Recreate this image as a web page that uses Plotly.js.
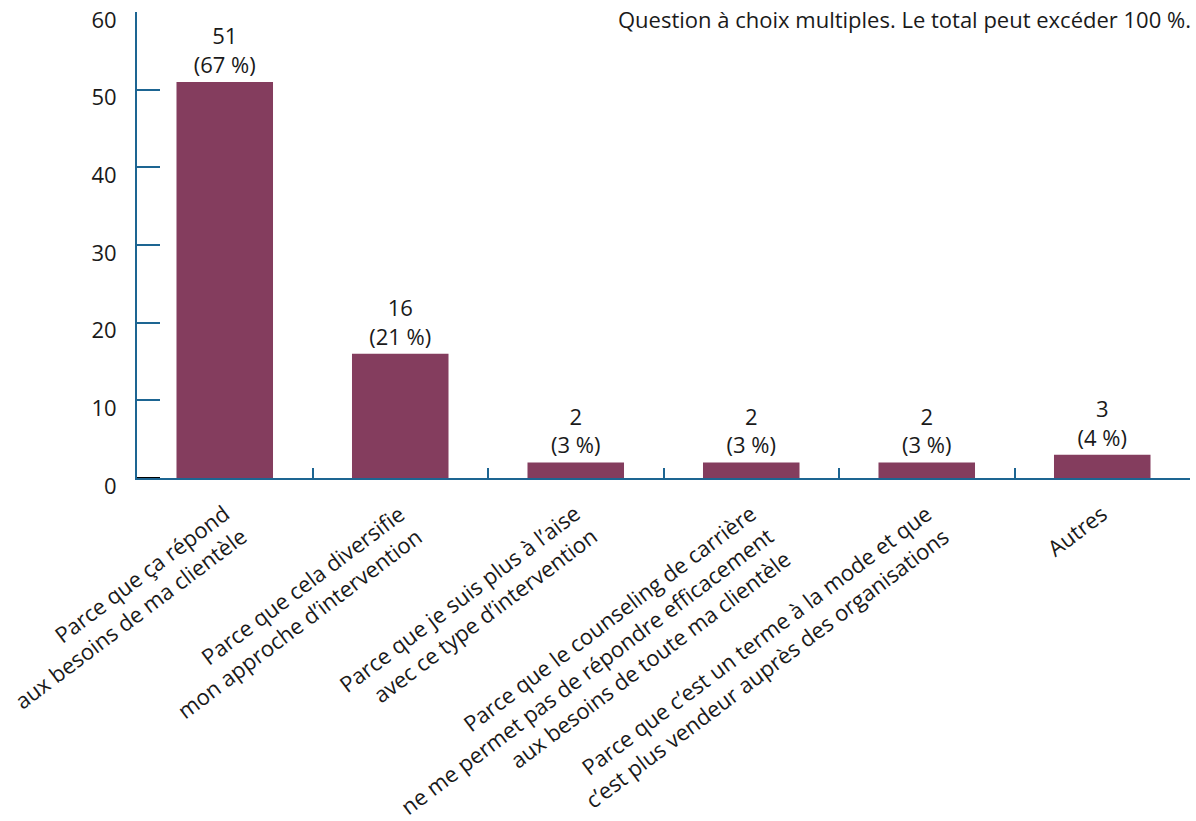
<!DOCTYPE html>
<html><head><meta charset="utf-8">
<script src="https://cdn.plot.ly/plotly-3.0.1.min.js"></script>
<style>html,body{margin:0;padding:0;background:#fff}</style>
</head><body><div id="chart" style="width:1196px;height:821px"></div>
<script>
const categories = [
  "Parce que ça répond<br>aux besoins de ma clientèle",
  "Parce que cela diversifie<br>mon approche d’intervention",
  "Parce que je suis plus à l’aise<br>avec ce type d’intervention",
  "Parce que le counseling de carrière<br>ne me permet pas de répondre efficacement<br>aux besoins de toute ma clientèle",
  "Parce que c’est un terme à la mode et que<br>c’est plus vendeur auprès des organisations",
  "Autres"
];
const counts = [51, 16, 2, 2, 2, 3];
const percents = [67, 21, 3, 3, 3, 4];
const yTicks = [0, 10, 20, 30, 40, 50, 60];
const note = "Question à choix multiples. Le total peut excéder 100 %.";

const axisColor = "#1d6592";
const barColor = "#843d5e";
const textColor = "#1a1a1a";
const fontFamily = "'Open Sans', 'DejaVu Sans', sans-serif";
const fs = 22;

// rotated category labels (right-aligned lines, top-right corner hung below each category)
const angle = 37;
const sinA = Math.sin(angle * Math.PI / 180);
const hangX = -6, hangY = 17;
const labelAnnotations = categories.map(cat => {
  const n = cat.split("<br>").length;
  const h = (n - 1) * 1.3 * fs + 1.36 * fs + 2;
  return {
    text: cat, showarrow: false, textangle: -angle, align: "right",
    xref: "x", x: cat, yref: "paper", y: 0,
    xanchor: "right", yanchor: "top",
    xshift: hangX + h * sinA, yshift: -hangY,
    font: {size: fs, color: textColor, family: fontFamily}
  };
});

const trace = {
  type: "bar",
  x: categories,
  y: counts,
  text: counts.map((c, i) => c + "<br>(" + percents[i] + " %)"),
  textposition: "outside",
  textfont: {size: fs, color: textColor, family: fontFamily},
  constraintext: "none",
  marker: {color: barColor},
  width: 0.55,
  cliponaxis: false,
  hoverinfo: "none"
};

const layout = {
  width: 1196, height: 821,
  margin: {l: 137, r: 6, t: 12, b: 343},
  paper_bgcolor: "#fff", plot_bgcolor: "#fff",
  font: {family: fontFamily, size: fs, color: textColor},
  showlegend: false,
  xaxis: {
    type: "category", categoryorder: "array", categoryarray: categories,
    range: [-0.5, categories.length - 0.5], autorange: false,
    showline: true, linecolor: axisColor, linewidth: 2,
    ticks: "inside", tickson: "boundaries", ticklen: 10, tickwidth: 2, tickcolor: axisColor,
    showticklabels: false,
    showgrid: false, zeroline: false, automargin: false
  },
  yaxis: {
    range: [0, 60], autorange: false, tickvals: yTicks, ticktext: yTicks.map(String),
    showline: true, linecolor: axisColor, linewidth: 2,
    ticks: "inside", ticklen: 23, tickwidth: 2, tickcolor: axisColor,
    tickfont: {size: fs, color: textColor},
    ticklabelshift: 8, ticklabelstandoff: 14, ticklabeloverflow: "allow",
    showgrid: false, zeroline: false, automargin: false
  },
  shapes: [{
    type: "line", layer: "above",
    xref: "paper", xsizemode: "pixel", xanchor: 0, x0: 0, x1: 23,
    yref: "y", y0: 0, y1: 0,
    line: {color: "#000", width: 2}
  }],
  annotations: [{
    text: note, showarrow: false,
    xref: "paper", x: 1, xanchor: "right", xshift: 3,
    yref: "paper", y: 1, yanchor: "middle", yshift: -7,
    font: {size: fs, color: textColor, family: fontFamily}
  }].concat(labelAnnotations)
};

Plotly.newPlot("chart", [trace], layout, {displayModeBar: false, staticPlot: true});
</script></body></html>
